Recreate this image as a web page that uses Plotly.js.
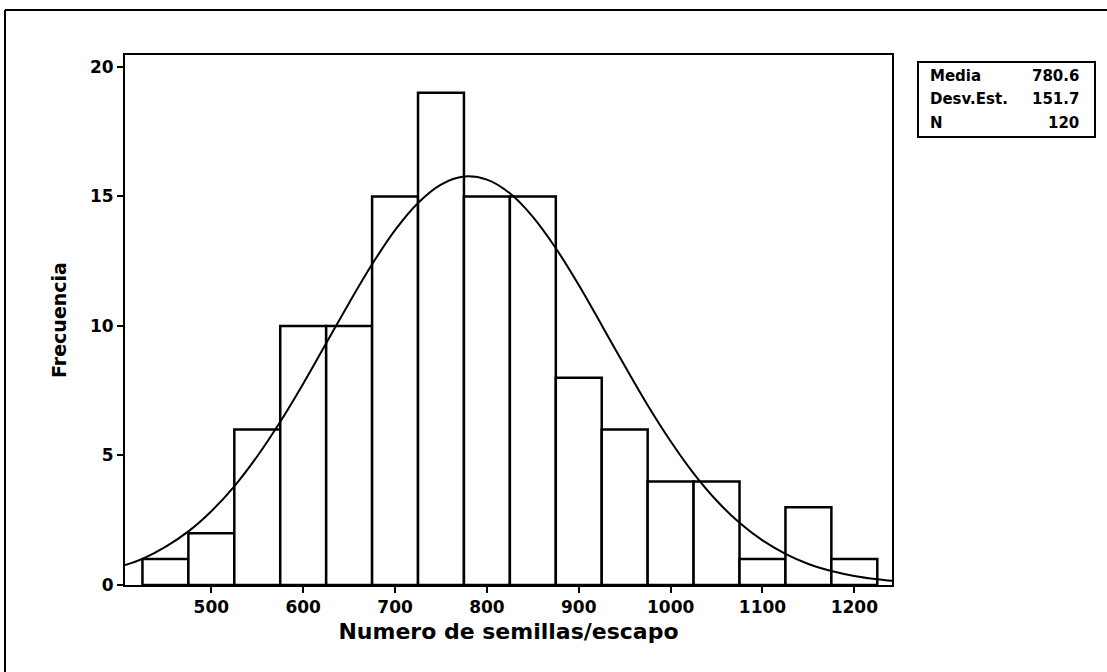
<!DOCTYPE html>
<html>
<head>
<meta charset="utf-8">
<script src="https://cdn.plot.ly/plotly-3.0.1.min.js"></script>
<style>
  html, body { margin: 0; padding: 0; background: #fff; }
  #chart { width: 1107px; height: 672px; }
</style>
</head>
<body>
<div id="chart"></div>
<script>
// Histogram bins (centers) and frequencies
const binCenters = [450, 500, 550, 600, 650, 700, 750, 800, 850, 900, 950, 1000, 1050, 1100, 1150, 1200];
const frequencies = [1, 2, 6, 10, 10, 15, 19, 15, 15, 8, 6, 4, 4, 1, 3, 1];

// Fitted normal curve
const curveX = [406, 425, 450, 475, 500, 525, 550, 575, 600, 625, 650, 675, 700, 725, 750, 775, 800, 825, 850, 875, 900, 925, 950, 975, 1000, 1025, 1050, 1075, 1100, 1125, 1150, 1175, 1200, 1225, 1241];
const curveY = [0.77, 1.01, 1.47, 2.07, 2.85, 3.81, 4.97, 6.30, 7.77, 9.33, 10.89, 12.38, 13.70, 14.75, 15.46, 15.77, 15.65, 15.12, 14.21, 13.00, 11.58, 10.03, 8.46, 6.94, 5.55, 4.31, 3.26, 2.40, 1.72, 1.20, 0.81, 0.54, 0.35, 0.22, 0.16];

// Tick labels
const xTicks = [500, 600, 700, 800, 900, 1000, 1100, 1200];
const yTicks = [0, 5, 10, 15, 20];

// Summary box
const statLabels = ["Media", "Desv.Est.", "N"];
const statValues = ["780.6", "151.7", "120"];

const L = 125, R = 892, T = 55, B = 585;
const W = 1107, H = 672;
const px = (x) => (x - L) / (R - L);
const py = (y) => (B - y) / (B - T);

const traces = [
  {
    type: 'bar',
    x: binCenters,
    y: frequencies,
    width: 50,
    marker: { color: '#ffffff', line: { color: '#000000', width: 2.5 } },
    hoverinfo: 'x+y'
  },
  {
    type: 'scatter',
    mode: 'lines',
    x: curveX,
    y: curveY,
    line: { color: '#000000', width: 2, shape: 'spline', smoothing: 1 },
    hoverinfo: 'skip'
  }
];

const rowY = [76, 99, 123];
const statFont = { family: 'DejaVu Sans', size: 15, color: '#000', weight: 'bold' };
const annotations = [];
statLabels.forEach((lab, i) => {
  annotations.push({
    xref: 'paper', yref: 'paper', x: px(928), y: py(rowY[i]),
    xanchor: 'left', yanchor: 'middle', showarrow: false,
    text: lab, font: statFont
  });
  annotations.push({
    xref: 'paper', yref: 'paper', x: px(1081), y: py(rowY[i]),
    xanchor: 'right', yanchor: 'middle', showarrow: false,
    text: statValues[i], font: statFont
  });
});

const tickFont = { family: 'DejaVu Sans', size: 17, color: '#000', weight: 'bold' };

const layout = {
  width: W, height: H,
  margin: { l: L, r: W - R, t: T, b: H - B, pad: 0 },
  paper_bgcolor: '#ffffff',
  plot_bgcolor: '#ffffff',
  showlegend: false,
  bargap: 0,
  xaxis: {
    range: [406, 1241],
    tickvals: xTicks,
    ticks: 'outside', ticklen: 6, tickwidth: 2, tickcolor: '#000',
    showline: true, linecolor: '#000', linewidth: 2, mirror: true,
    showgrid: false, zeroline: false,
    tickfont: tickFont,
    title: { text: 'Numero de semillas/escapo', standoff: 7,
             font: { family: 'DejaVu Sans', size: 22, color: '#000', weight: 'bold' } }
  },
  yaxis: {
    range: [0, 20.46],
    tickvals: yTicks,
    ticks: 'outside', ticklen: 6, tickwidth: 2, tickcolor: '#000',
    showline: true, linecolor: '#000', linewidth: 2, mirror: true,
    showgrid: false, zeroline: false,
    tickfont: tickFont,
    title: { text: 'Frecuencia', standoff: 18,
             font: { family: 'DejaVu Sans', size: 19, color: '#000', weight: 'bold' } }
  },
  shapes: [
    { type: 'rect', xref: 'paper', yref: 'paper',
      x0: px(918), x1: px(1095), y0: py(137), y1: py(62),
      line: { color: '#000', width: 2 }, fillcolor: 'rgba(0,0,0,0)' },
    { type: 'line', xref: 'paper', yref: 'paper',
      x0: px(5), x1: px(1107), y0: py(10), y1: py(10),
      line: { color: '#000', width: 2 } },
    { type: 'line', xref: 'paper', yref: 'paper',
      x0: px(5), x1: px(5), y0: py(10), y1: py(672),
      line: { color: '#000', width: 2 } }
  ],
  annotations: annotations
};

Plotly.newPlot('chart', traces, layout, { displayModeBar: false, staticPlot: true });
</script>
</body>
</html>
